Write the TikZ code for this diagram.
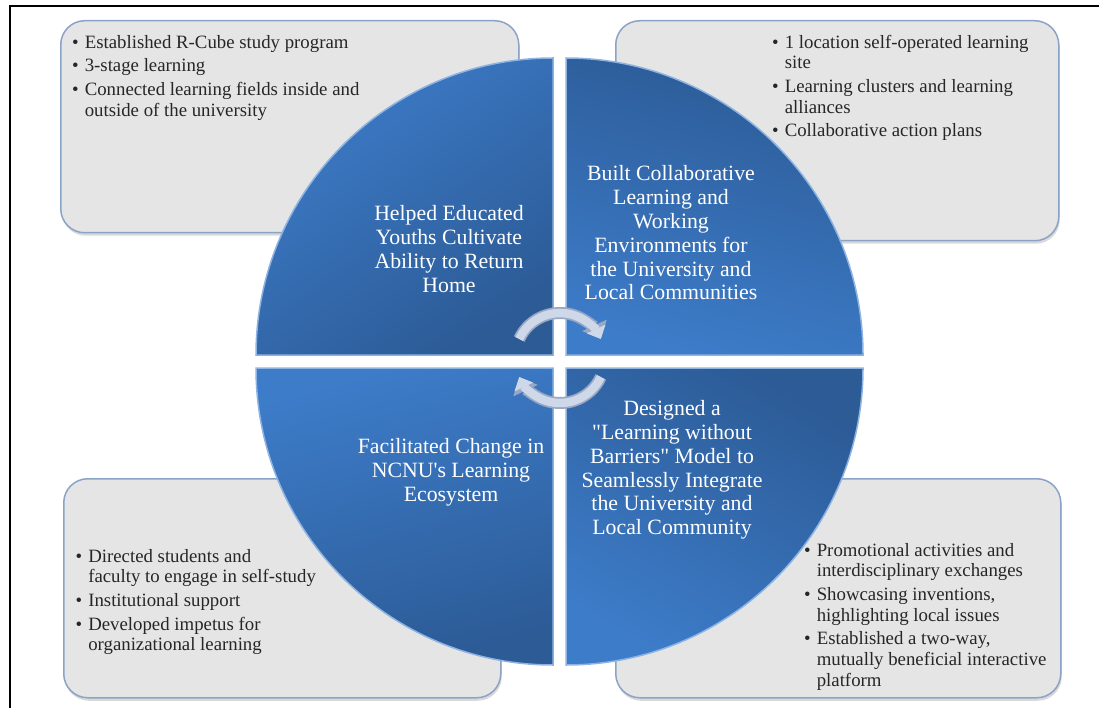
\documentclass[tikz,border=0pt]{standalone}
\usepackage{fontspec}
\setmainfont{Liberation Serif}
\usepackage{tikz}
\usetikzlibrary{positioning,arrows.meta,shadows}

\definecolor{boxgray}{HTML}{E5E5E5}
\definecolor{boxedge}{HTML}{8BA3C7}
\definecolor{quaddark}{HTML}{2C5B96}
\definecolor{quadlight}{HTML}{3D7CC9}
\definecolor{quadedge}{HTML}{8DB3E2}
\definecolor{arrowgray}{HTML}{CFD8E8}
\definecolor{arrowedge}{HTML}{98A8C4}
\definecolor{textgray}{HTML}{262626}

\begin{document}
\begin{tikzpicture}[x=1pt, y=1pt,
  infobox/.style={draw=boxedge, line width=1.5pt, fill=boxgray, rounded corners=24pt,
    inner sep=0pt, anchor=north west,
    drop shadow={shadow xshift=1pt, shadow yshift=-3pt, opacity=0.3}},
  box text/.style={inner sep=0pt, text=textgray, font=\fontsize{18.8}{20.7}\selectfont},
  every quad/.style={draw=quadedge, line width=1.5pt},
  quad 1/.style={top color=quadlight, bottom color=quaddark, shading angle=35},
  quad 2/.style={left color=quaddark, right color=quadlight, shading angle=-15},
  quad 3/.style={left color=quadlight, right color=quaddark, shading angle=15},
  quad 4/.style={top color=quaddark, bottom color=quadlight, shading angle=-30},
  quad text/.style={align=center, text=white, inner sep=0pt, font=\fontsize{21.8}{23.8}\selectfont},
  cycle arrow/.style={line width=12pt, draw=arrowedge, -{Triangle[length=15pt, width=26pt]}},
  cycle fill/.style={line width=8.5pt, draw=arrowgray, -{Triangle[length=11pt, width=20pt]}}]

\useasboundingbox (0,0) rectangle (1099,-708);
\draw[line width=1.2pt] (10,-708) -- (10,-6) -- (1099,-6);

\foreach \n/\x/\y/\w/\h in {1/60/20/458/212, 2/615/20/443/220, 3/63/478/437/219, 4/615/478/445/219}
  \node [infobox, minimum width=\w pt, minimum height=\h pt] (box-\n) at (\x,-\y) {};

\node [box text, below right=13.5pt and 12pt of box-1.north west] (list-1) {%
  \begin{tabular}{@{}l@{\hspace{6pt}}l@{}}
  \textbullet & Established R-Cube study program\\[3pt]
  \textbullet & 3-stage learning\\[3pt]
  \textbullet & Connected learning fields inside and\\
              & outside of the university
  \end{tabular}};
\node [box text, below right=13.5pt and 157pt of box-2.north west] (list-2) {%
  \begin{tabular}{@{}l@{\hspace{6pt}}l@{}}
  \textbullet & 1 location self-operated learning\\
              & site\\[3pt]
  \textbullet & Learning clusters and learning\\
              & alliances\\[3pt]
  \textbullet & Collaborative action plans
  \end{tabular}};
\node [box text, below right=69.5pt and 12.5pt of box-3.north west] (list-3) {%
  \begin{tabular}{@{}l@{\hspace{6pt}}l@{}}
  \textbullet & Directed students and\\
              & faculty to engage in self-study\\[3pt]
  \textbullet & Institutional support\\[3pt]
  \textbullet & Developed impetus for\\
              & organizational learning
  \end{tabular}};
\node [box text, below right=63.5pt and 189pt of box-4.north west] (list-4) {%
  \begin{tabular}{@{}l@{\hspace{6pt}}l@{}}
  \textbullet & Promotional activities and\\
              & interdisciplinary exchanges\\[3pt]
  \textbullet & Showcasing inventions,\\
              & highlighting local issues\\[3pt]
  \textbullet & Established a two-way,\\
              & mutually beneficial interactive\\
              & platform
  \end{tabular}};

\foreach \n/\cx/\cy/\a in {1/553/355/90, 2/566/355/0, 3/553/368/180, 4/566/368/270}
  \path [every quad, quad \n/.try] (\cx,-\cy) -- ++({\a+90}:297)
    arc [start angle=\a+90, end angle=\a, radius=297] -- cycle;

\node [quad text] (title-1) at (449,-249) {Helped Educated\\Youths Cultivate\\Ability to Return\\Home};
\node [quad text] (title-2) at (671,-233) {Built Collaborative\\Learning and\\Working\\Environments for\\the University and\\Local Communities};
\node [quad text] (title-3) at (451,-472) {Facilitated Change in\\NCNU\textquotesingle s Learning\\Ecosystem};
\node [quad text] (title-4) at (672,-470) {Designed a\\\textquotedbl Learning without\\Barriers\textquotedbl{} Model to\\Seamlessly Integrate\\the University and\\Local Community};

\coordinate (hub) at (560,-358);
\foreach \s/\e in {155/25, -25/-155} {
  \draw [cycle arrow] (hub) ++(\s:45) arc [start angle=\s, end angle=\e, radius=45];
  \draw [cycle fill] (hub) ++(\s:45) arc [start angle=\s, end angle=\e, radius=45];
}
\end{tikzpicture}
\end{document}
